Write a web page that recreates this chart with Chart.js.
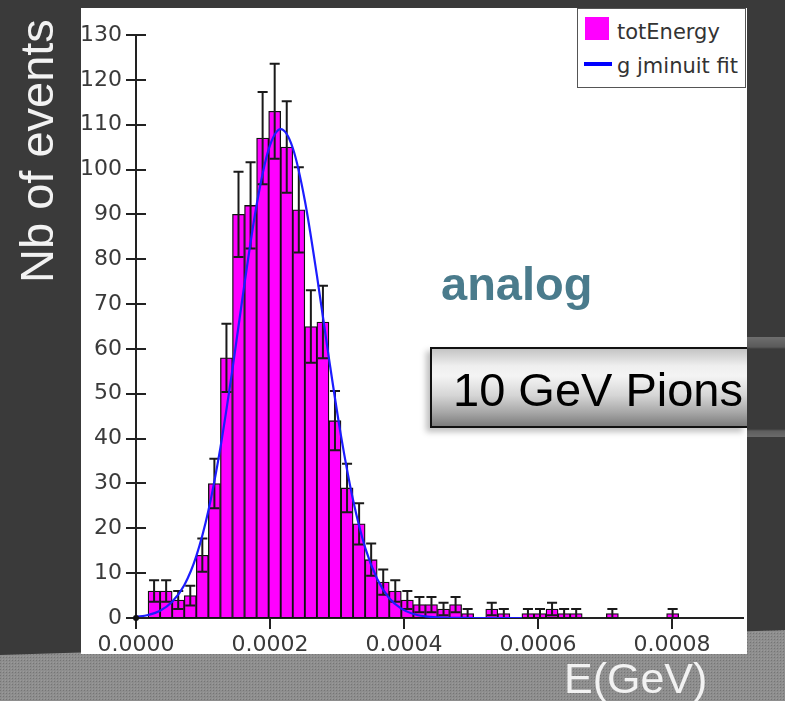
<!DOCTYPE html>
<html><head><meta charset="utf-8">
<script src="https://cdn.jsdelivr.net/npm/chart.js@4.4.1/dist/chart.umd.min.js"></script>
<style>
html,body{margin:0;padding:0;width:785px;height:701px;overflow:hidden;background:#3a3a3a;}
#band{position:absolute;left:0;top:0;}
#panel{position:absolute;left:81px;top:8px;width:666px;height:646px;background:#fff;}
#wrap{position:absolute;left:0;top:0;width:785px;height:701px;}
canvas{display:block;}
.t{position:absolute;white-space:nowrap;line-height:1;font-family:'Liberation Sans',Arial,sans-serif;}
#ylab{left:13px;top:283px;transform-origin:0 0;transform:rotate(-90deg);font-size:47px;color:#f2f2f2;}
#xlab{left:564px;top:657px;font-size:43px;color:#f2f2f2;}
#analog{left:441px;top:260px;font-size:47px;font-weight:bold;color:#4a7b8c;}
#pstrip{position:absolute;left:747px;top:337px;width:38px;height:100px;
  background:linear-gradient(to bottom,#6e6e6e 0px,#5a5a5a 10px,#3a3a3a 12px,#3a3a3a 92px,#5e5e5e 94px,#6a6a6a 100px);}
#pbox{position:absolute;left:430px;top:347px;width:317px;height:81px;box-sizing:border-box;border:2px solid #111;border-right:none;
  background:linear-gradient(to bottom,#c4c4c4 0%,#efefef 22%,#f4f4f4 35%,#d6d6d6 60%,#a8a8a8 82%,#7c7c7c 100%);
  box-shadow:-4px 4px 6px rgba(0,0,0,0.25);}
#pions{left:453px;top:366px;font-size:47px;color:#000;}
#legend{position:absolute;left:577px;top:8px;width:169px;height:80px;box-sizing:border-box;border:1px solid #555;background:#fff;}
.li{position:absolute;font-family:'DejaVu Sans',sans-serif;font-size:21px;line-height:1;color:#333;white-space:nowrap;}
</style>
</head>
<body>
<svg id="band" width="785" height="701">
  <defs>
    <pattern id="dots" width="3" height="3" patternUnits="userSpaceOnUse">
      <rect width="3" height="3" fill="#8e8e8e"/>
      <rect width="1" height="1" fill="#757575"/>
      <rect x="2" y="2" width="1" height="1" fill="#9a9a9a"/>
    </pattern>
  </defs>
  <path d="M0,655 Q420,642 785,630 L785,701 L0,701 Z" fill="url(#dots)"/>
</svg>
<div id="panel"></div>
<div id="wrap"><canvas id="c" width="785" height="701"></canvas></div>
<div id="legend"></div>
<div class="t" id="analog">analog</div>
<div id="pstrip"></div>
<div id="pbox"></div>
<div class="t" id="pions">10 GeV Pions</div>
<div class="t" id="ylab">Nb of events</div>
<div class="t" id="xlab">E(GeV)</div>
<script>
// ---- data ----
const binCenters = [9e-6,27e-6,45e-6,63e-6,81e-6,99e-6,117e-6,135e-6,153e-6,171e-6,
  189e-6,207e-6,225e-6,243e-6,261e-6,279e-6,297e-6,315e-6,333e-6,351e-6,
  369e-6,387e-6,405e-6,423e-6,441e-6,459e-6,477e-6,495e-6,513e-6,531e-6,
  549e-6,567e-6,585e-6,603e-6,621e-6,639e-6,657e-6,675e-6,693e-6,711e-6,
  729e-6,747e-6,765e-6,783e-6,801e-6,819e-6,837e-6,855e-6,873e-6,891e-6];
const counts = [0,6,6,4,5,14,30,58,90,92,
  107,113,105,91,65,66,44,29,21,13,
  8,6,4,3,3,2,3,1,0,2,
  1,0,1,1,2,1,1,0,0,1,
  0,0,0,0,1,0,0,0,0,0];
const errors = [0,2.4,2.4,2.0,2.2,3.7,5.5,7.6,9.5,9.6,
  10.3,10.6,10.2,9.5,8.1,8.1,6.6,5.4,4.6,3.6,
  2.8,2.4,2.0,1.7,1.7,1.4,1.7,1.0,0,1.4,
  1.0,0,1.0,1.0,1.4,1.0,1.0,0,0,1.0,
  0,0,0,0,1.0,0,0,0,0,0];
const fitX = [0,18e-6,36e-6,54e-6,72e-6,90e-6,108e-6,126e-6,144e-6,162e-6,180e-6,198e-6,216e-6,
  234e-6,252e-6,270e-6,288e-6,306e-6,324e-6,342e-6,360e-6,378e-6,396e-6,414e-6,432e-6,
  450e-6,468e-6,486e-6,504e-6,522e-6,540e-6,558e-6,576e-6];
const fitY = [0.25,0.67,1.6,3.6,7.3,13.8,23.9,38.0,55.5,74.6,92.1,104.5,109,
  104.8,93.1,76.4,57.9,40.6,26.3,15.7,8.7,4.4,2.1,0.9,0.37,
  0.14,0.05,0.02,0,0,0,0,0];
const xTicks = [0,0.0002,0.0004,0.0006,0.0008];
const xTickLabels = ['0.0000','0.0002','0.0004','0.0006','0.0008'];
const yTicks = [0,10,20,30,40,50,60,70,80,90,100,110,120,130];
const seriesNames = ['totEnergy','g jminuit fit'];

const AX = '#222';
const tickFont = {family:'DejaVu Sans', size:22};

const errorBars = {
  id:'errorBars',
  afterDatasetDraw(chart, args){
    if (args.index !== 1) return;
    const ctx = chart.ctx, y = chart.scales.y;
    ctx.save();
    ctx.strokeStyle = '#1a1a1a';
    ctx.lineWidth = 2;
    args.meta.data.forEach((bar, i) => {
      if (!counts[i]) return;
      const hw = bar.width/2;
      const yh = y.getPixelForValue(counts[i]+errors[i]);
      const yl = y.getPixelForValue(counts[i]-errors[i]);
      ctx.beginPath();
      ctx.moveTo(bar.x, yh); ctx.lineTo(bar.x, yl);
      ctx.moveTo(bar.x-hw+1, yh); ctx.lineTo(bar.x+hw-1, yh);
      ctx.moveTo(bar.x-hw+1, yl); ctx.lineTo(bar.x+hw-1, yl);
      ctx.stroke();
    });
    ctx.restore();
  }
};
const tickMarks = {
  id:'tickMarks',
  afterDraw(chart){
    const ctx = chart.ctx, a = chart.chartArea, xs = chart.scales.x, ys = chart.scales.y;
    ctx.save();
    ctx.strokeStyle = AX; ctx.lineWidth = 2;
    ctx.beginPath();
    ys.ticks.forEach(t => { const p = Math.round(ys.getPixelForValue(t.value)); ctx.moveTo(a.left-10,p); ctx.lineTo(a.left+10,p); });
    xs.ticks.forEach(t => { const p = Math.round(xs.getPixelForValue(t.value)); ctx.moveTo(p,a.bottom); ctx.lineTo(p,a.bottom+11); });
    ctx.stroke();
    ctx.fillStyle = '#111';
    ctx.beginPath();
    ctx.arc(xs.getPixelForValue(fitX[0]), ys.getPixelForValue(0), 3, 0, Math.PI*2);
    ctx.fill();
    ctx.restore();
  }
};

const chart = new Chart(document.getElementById('c'), {
  type:'bar',
  data:{
    datasets:[
      {type:'line', label:seriesNames[1], order:0,
       data:fitX.map((x,i)=>({x, y:fitY[i]})),
       borderColor:'#1c1cff', borderWidth:2.2, pointRadius:0, fill:false,
       cubicInterpolationMode:'monotone'},
      {type:'bar', label:seriesNames[0], order:1,
       data:binCenters.map((x,i)=>({x, y:counts[i]})),
       backgroundColor:'#ff00ff', borderColor:'#111', borderWidth:1.3, borderSkipped:false,
       barPercentage:1, categoryPercentage:1}
    ]
  },
  options:{
    responsive:false, animation:false, devicePixelRatio:1,
    layout:{padding:{left:0, top:35, right:42, bottom:0}},
    plugins:{legend:{display:false}, tooltip:{enabled:false}},
    scales:{
      x:{type:'linear', min:0, max:0.000906, offset:false,
         grid:{display:false, drawTicks:true, tickLength:9},
         border:{display:true, color:AX, width:2},
         ticks:{font:tickFont, color:'#3a3a3a', padding:5, maxRotation:0, autoSkip:false,
                callback:(v)=>{const k=xTicks.indexOf(v); return k>=0?xTickLabels[k]:'';}},
         afterBuildTicks:(s)=>{s.ticks = xTicks.map(v=>({value:v}));},
         afterFit:(s)=>{s.height = 83;}},
      y:{min:0, max:130,
         grid:{display:false, drawTicks:true, tickLength:10},
         border:{display:true, color:AX, width:2},
         ticks:{font:tickFont, color:'#3a3a3a', padding:4},
         afterBuildTicks:(s)=>{s.ticks = yTicks.map(v=>({value:v}));},
         afterFit:(s)=>{s.width = 136;}}
    }
  },
  plugins:[errorBars, tickMarks]
});

// legend built from the datasets
const lg = document.getElementById('legend');
const bd = chart.data.datasets[1], ld = chart.data.datasets[0];
lg.innerHTML =
  '<div style="position:absolute;left:7px;top:8px;width:24px;height:23px;background:'+bd.backgroundColor+'"></div>'+
  '<div class="li" style="left:39px;top:13px">'+bd.label+'</div>'+
  '<div style="position:absolute;left:6px;top:53px;width:28px;height:4px;background:#0000ff"></div>'+
  '<div class="li" style="left:39px;top:47px">'+ld.label+'</div>';
</script>
</body></html>
